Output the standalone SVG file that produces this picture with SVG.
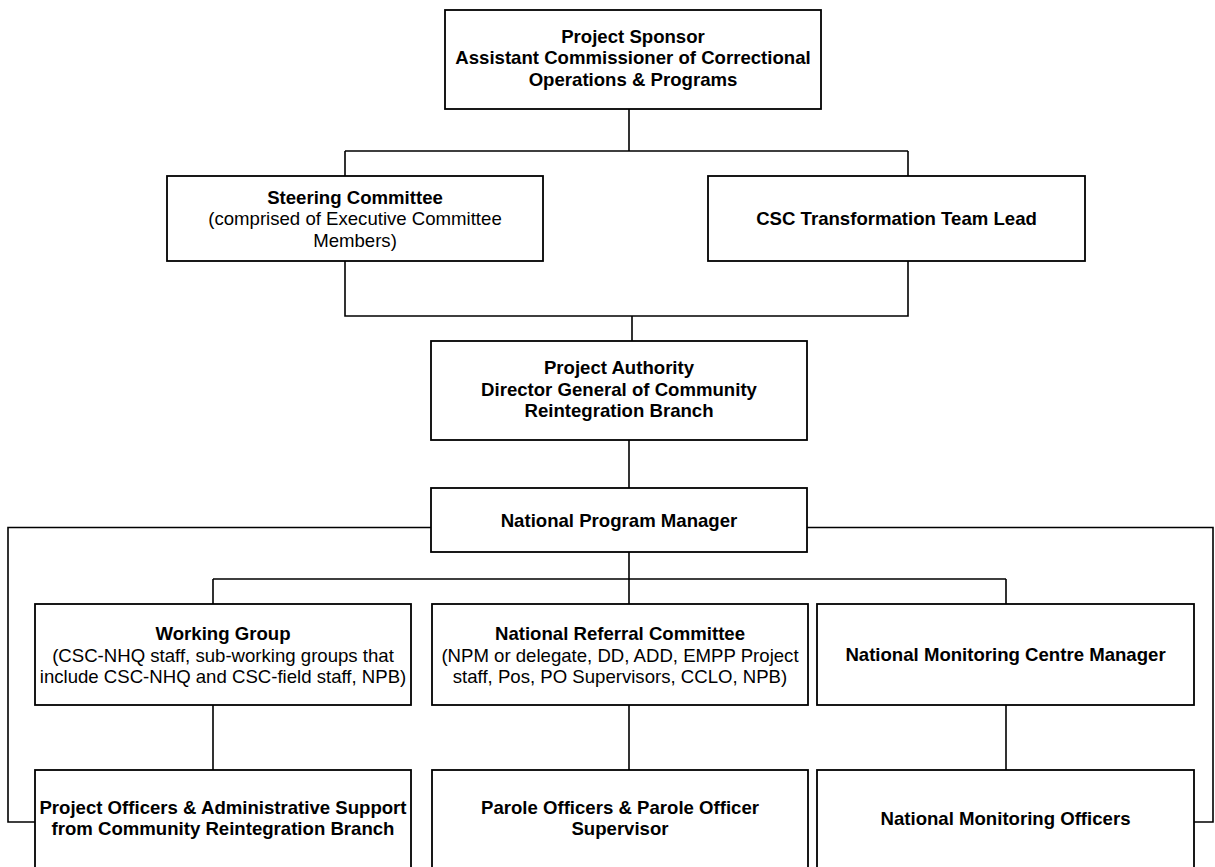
<svg xmlns="http://www.w3.org/2000/svg" width="1215" height="867" viewBox="0 0 1215 867">
<style>
.box{fill:#fff;stroke:#000;stroke-width:1.8}
.con{fill:none;stroke:#000;stroke-width:1.6}
text{font-family:"Liberation Sans",Arial,sans-serif;font-size:18.6px;fill:#000;text-anchor:middle}
.b{font-weight:bold}
</style>
<rect width="1215" height="867" fill="#fff"/>
<g id="connectors">
<path class="con" d="M629 109V151M345 151H908M345 151V176M908 151V176"/>
<path class="con" d="M345 261V316H908V261M632 316V341"/>
<path class="con" d="M629 440V488"/>
<path class="con" d="M431 527.5H8V822H35M807 527.5H1213V822H1194"/>
<path class="con" d="M629 552V579M213 579H1006M213 579V604M629 579V604M1006 579V604"/>
<path class="con" d="M213 705V770M629 705V770M1006 705V770"/>
</g>
<g id="sponsor">
<rect class="box" x="445" y="10" width="376" height="99"/>
<text class="b" x="633" y="42.5">Project Sponsor</text>
<text class="b" x="633" y="64">Assistant Commissioner of Correctional</text>
<text class="b" x="633" y="85.5">Operations &amp; Programs</text>
</g>
<g id="steering">
<rect class="box" x="167" y="176" width="376" height="85"/>
<text class="b" x="355" y="203.5">Steering Committee</text>
<text x="355" y="225">(comprised of Executive Committee</text>
<text x="355" y="246.5">Members)</text>
</g>
<g id="csc">
<rect class="box" x="708" y="176" width="377" height="85"/>
<text class="b" x="896.5" y="225">CSC Transformation Team Lead</text>
</g>
<g id="authority">
<rect class="box" x="431" y="341" width="376" height="99"/>
<text class="b" x="619" y="374">Project Authority</text>
<text class="b" x="619" y="395.5">Director General of Community</text>
<text class="b" x="619" y="417">Reintegration Branch</text>
</g>
<g id="npm">
<rect class="box" x="431" y="488" width="376" height="64"/>
<text class="b" x="619" y="526.5">National Program Manager</text>
</g>
<g id="working">
<rect class="box" x="35" y="604" width="376" height="101"/>
<text class="b" x="223" y="640">Working Group</text>
<text x="223" y="661.5">(CSC-NHQ staff, sub-working groups that</text>
<text x="223" y="683">include CSC-NHQ and CSC-field staff, NPB)</text>
</g>
<g id="referral">
<rect class="box" x="432" y="604" width="376" height="101"/>
<text class="b" x="620" y="640">National Referral Committee</text>
<text x="620" y="661.5">(NPM or delegate, DD, ADD, EMPP Project</text>
<text x="620" y="683">staff, Pos, PO Supervisors, CCLO, NPB)</text>
</g>
<g id="monitoring-manager">
<rect class="box" x="817" y="604" width="377" height="101"/>
<text class="b" x="1005.5" y="661">National Monitoring Centre Manager</text>
</g>
<g id="project-officers">
<rect class="box" x="35" y="770" width="376" height="130"/>
<text class="b" x="223" y="813.5">Project Officers &amp; Administrative Support</text>
<text class="b" x="223" y="835">from Community Reintegration Branch</text>
</g>
<g id="parole-officers">
<rect class="box" x="432" y="770" width="376" height="130"/>
<text class="b" x="620" y="813.5">Parole Officers &amp; Parole Officer</text>
<text class="b" x="620" y="835">Supervisor</text>
</g>
<g id="monitoring-officers">
<rect class="box" x="817" y="770" width="377" height="130"/>
<text class="b" x="1005.5" y="825">National Monitoring Officers</text>
</g>
</svg>
